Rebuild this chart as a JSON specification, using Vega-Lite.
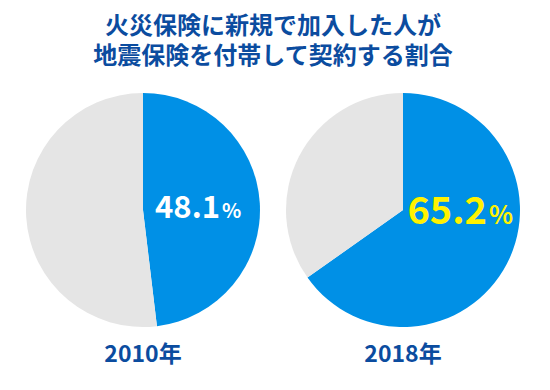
{
  "$schema": "https://vega.github.io/schema/vega-lite/v6.json",
  "background": "white",
  "padding": {"top": 15, "left": 13, "right": 0, "bottom": 12},
  "title": {
    "text": ["火災保険に新規で加入した人が", "地震保険を付帯して契約する割合"],
    "font": "Noto Sans CJK JP",
    "fontSize": 24,
    "fontWeight": "bold",
    "lineHeight": 30,
    "color": "#0b4c9f",
    "anchor": "middle",
    "offset": 24
  },
  "config": {
    "view": {"stroke": null},
    "concat": {"spacing": 0},
    "title": {"font": "Noto Sans CJK JP"}
  },
  "datasets": {
    "share": [
      {"year": "2010年", "cat": "加入", "value": 48.1},
      {"year": "2010年", "cat": "未加入", "value": 51.9},
      {"year": "2018年", "cat": "加入", "value": 65.2},
      {"year": "2018年", "cat": "未加入", "value": 34.8}
    ]
  },
  "hconcat": [
    {
      "width": 260,
      "height": 234,
      "data": {"name": "share"},
      "transform": [{"filter": "datum.year === '2010年'"}],
      "title": {"text": "2010年", "orient": "bottom", "fontSize": 23, "fontWeight": "bold", "color": "#0b4c9f", "anchor": "middle", "offset": 17},
      "layer": [
        {
          "mark": {"type": "arc", "radius": 117, "stroke": null},
          "encoding": {
            "theta": {"field": "value", "type": "quantitative", "stack": true},
            "color": {"field": "cat", "type": "nominal", "scale": {"domain": ["加入", "未加入"], "range": ["#0090e6", "#e5e5e5"]}, "legend": null}
          }
        },
        {
          "transform": [{"filter": "datum.cat === '加入'"}],
          "mark": {"type": "text", "align": "right", "baseline": "alphabetic", "dx": 77, "dy": 8, "font": "Noto Sans CJK JP", "fontWeight": "bold", "fontSize": 31, "color": "white"},
          "encoding": {"text": {"field": "value", "type": "quantitative", "format": ".1f"}}
        },
        {
          "transform": [{"filter": "datum.cat === '加入'"}],
          "mark": {"type": "text", "align": "left", "baseline": "alphabetic", "dx": 79, "dy": 8, "font": "Noto Sans CJK JP", "fontWeight": "bold", "fontSize": 20, "color": "white", "text": "%"},
          "encoding": {}
        }
      ]
    },
    {
      "width": 260,
      "height": 234,
      "data": {"name": "share"},
      "transform": [{"filter": "datum.year === '2018年'"}],
      "title": {"text": "2018年", "orient": "bottom", "fontSize": 23, "fontWeight": "bold", "color": "#0b4c9f", "anchor": "middle", "offset": 17},
      "layer": [
        {
          "mark": {"type": "arc", "radius": 117, "stroke": null},
          "encoding": {
            "theta": {"field": "value", "type": "quantitative", "stack": true},
            "color": {"field": "cat", "type": "nominal", "scale": {"domain": ["加入", "未加入"], "range": ["#0090e6", "#e5e5e5"]}, "legend": null}
          }
        },
        {
          "transform": [{"filter": "datum.cat === '加入'"}],
          "mark": {"type": "text", "align": "right", "baseline": "alphabetic", "dx": 84, "dy": 14, "font": "Noto Sans CJK JP", "fontWeight": "bold", "fontSize": 38, "color": "#fff200"},
          "encoding": {"text": {"field": "value", "type": "quantitative", "format": ".1f"}}
        },
        {
          "transform": [{"filter": "datum.cat === '加入'"}],
          "mark": {"type": "text", "align": "left", "baseline": "alphabetic", "dx": 86, "dy": 14, "font": "Noto Sans CJK JP", "fontWeight": "bold", "fontSize": 25, "color": "#fff200", "text": "%"},
          "encoding": {}
        }
      ]
    }
  ]
}
